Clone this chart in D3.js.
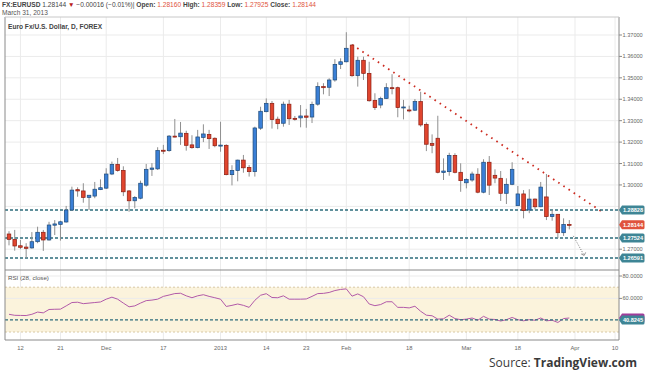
<!DOCTYPE html>
<html>
<head>
<meta charset="utf-8">
<script src="https://cdn.jsdelivr.net/npm/d3@7"></script>
<style>
  body { margin: 0; background: #fff; }
  svg { display: block; font-family: "Liberation Sans", Arial, sans-serif; }
</style>
</head>
<body>
<svg id="chart" width="645" height="376"></svg>
<script>
// daily bars, Nov 8 2012 .. Mar 28 2013: [open, high, low, close]
const candles = [
  [1.2771, 1.2784, 1.2718, 1.2746], [1.2746, 1.2790, 1.2693, 1.2715], [1.2716, 1.2743, 1.2700, 1.2709],
  [1.2710, 1.2728, 1.2659, 1.2704], [1.2706, 1.2780, 1.2702, 1.2735], [1.2735, 1.2805, 1.2728, 1.2779],
  [1.2779, 1.2790, 1.2692, 1.2743], [1.2743, 1.2828, 1.2740, 1.2813], [1.2812, 1.2836, 1.2766, 1.2818],
  [1.2816, 1.2833, 1.2740, 1.2828], [1.2827, 1.2902, 1.2824, 1.2883], [1.2883, 1.2992, 1.2880, 1.2976],
  [1.2978, 1.2989, 1.2945, 1.2972], [1.2972, 1.3008, 1.2917, 1.2942], [1.2942, 1.2953, 1.2883, 1.2952],
  [1.2948, 1.3014, 1.2938, 1.2980], [1.2978, 1.3026, 1.2976, 1.2987], [1.2985, 1.3078, 1.2981, 1.3051],
  [1.3051, 1.3109, 1.3046, 1.3096], [1.3096, 1.3126, 1.3062, 1.3067], [1.3068, 1.3087, 1.2948, 1.2968],
  [1.2972, 1.2976, 1.2875, 1.2926], [1.2926, 1.2948, 1.2891, 1.2942], [1.2938, 1.3020, 1.2933, 1.3008],
  [1.2999, 1.3098, 1.2992, 1.3073], [1.3073, 1.3102, 1.3042, 1.3079], [1.3075, 1.3176, 1.3070, 1.3161],
  [1.3162, 1.3187, 1.3144, 1.3160], [1.3160, 1.3233, 1.3155, 1.3228], [1.3228, 1.3308, 1.3222, 1.3224],
  [1.3225, 1.3294, 1.3187, 1.3242], [1.3241, 1.3253, 1.3160, 1.3185], [1.3187, 1.3232, 1.3169, 1.3174],
  [1.3174, 1.3257, 1.3171, 1.3224], [1.3222, 1.3283, 1.3200, 1.3238], [1.3236, 1.3257, 1.3168, 1.3216],
  [1.3218, 1.3222, 1.3176, 1.3183], [1.3183, 1.3295, 1.3155, 1.3186], [1.3185, 1.3190, 1.3045, 1.3048],
  [1.3048, 1.3092, 1.2998, 1.3068], [1.3067, 1.3118, 1.3017, 1.3116], [1.3116, 1.3140, 1.3057, 1.3080],
  [1.3082, 1.3093, 1.3039, 1.3062], [1.3062, 1.3272, 1.3039, 1.3266], [1.3265, 1.3365, 1.3257, 1.3344],
  [1.3342, 1.3404, 1.3339, 1.3381], [1.3381, 1.3392, 1.3263, 1.3305], [1.3307, 1.3319, 1.3260, 1.3286],
  [1.3288, 1.3389, 1.3272, 1.3377], [1.3377, 1.3397, 1.3280, 1.3309], [1.3311, 1.3322, 1.3300, 1.3310],
  [1.3313, 1.3373, 1.3269, 1.3322], [1.3322, 1.3355, 1.3267, 1.3316], [1.3317, 1.3389, 1.3289, 1.3376],
  [1.3377, 1.3479, 1.3370, 1.3459], [1.3459, 1.3475, 1.3423, 1.3454], [1.3456, 1.3498, 1.3415, 1.3490],
  [1.3490, 1.3587, 1.3482, 1.3563], [1.3563, 1.3591, 1.3541, 1.3575], [1.3575, 1.3713, 1.3572, 1.3638],
  [1.3653, 1.3657, 1.3505, 1.3510], [1.3510, 1.3599, 1.3459, 1.3582], [1.3582, 1.3599, 1.3490, 1.3521],
  [1.3521, 1.3575, 1.3389, 1.3393], [1.3395, 1.3428, 1.3350, 1.3361], [1.3373, 1.3412, 1.3358, 1.3404],
  [1.3404, 1.3475, 1.3401, 1.3454], [1.3454, 1.3517, 1.3423, 1.3452], [1.3454, 1.3459, 1.3316, 1.3361],
  [1.3361, 1.3397, 1.3306, 1.3364], [1.3350, 1.3370, 1.3339, 1.3348], [1.3349, 1.3401, 1.3345, 1.3389],
  [1.3389, 1.3435, 1.3272, 1.3280], [1.3283, 1.3292, 1.3158, 1.3190], [1.3193, 1.3236, 1.3148, 1.3185],
  [1.3218, 1.3323, 1.3054, 1.3059], [1.3058, 1.3124, 1.3023, 1.3065], [1.3062, 1.3150, 1.3043, 1.3138],
  [1.3138, 1.3148, 1.3054, 1.3059], [1.3059, 1.3101, 1.2968, 1.3020], [1.3010, 1.3031, 1.2984, 1.3026],
  [1.3023, 1.3062, 1.3015, 1.3051], [1.3050, 1.3078, 1.2961, 1.2966], [1.2966, 1.3120, 1.2961, 1.3106],
  [1.3106, 1.3135, 1.2953, 1.2999], [1.3045, 1.3073, 1.3008, 1.3032], [1.3031, 1.3065, 1.2925, 1.2961],
  [1.2961, 1.3031, 1.2911, 1.3003], [1.3003, 1.3106, 1.2999, 1.3073], [1.2903, 1.2995, 1.2902, 1.2958],
  [1.2958, 1.2976, 1.2844, 1.2880], [1.2883, 1.2980, 1.2868, 1.2934], [1.2934, 1.2937, 1.2886, 1.2898],
  [1.2898, 1.3014, 1.2896, 1.2990], [1.2944, 1.3051, 1.2836, 1.2852], [1.2852, 1.2883, 1.2833, 1.2863],
  [1.2863, 1.2864, 1.2752, 1.2777], [1.2777, 1.2844, 1.2762, 1.2816], [1.28160, 1.28359, 1.27925, 1.28144]
];

// RSI(28) per bar
const rsi = [
  45.8, 44.9, 44.8, 44.7, 45.8, 47.8, 47.1, 50.1, 50.3, 50.4,
  53.3, 56.3, 56.6, 55.3, 55.8, 56.3, 56.8, 59.3, 61.1, 59.3,
  55.8, 52.5, 53.3, 55.8, 58.0, 58.5, 59.3, 61.8, 63.0, 64.3,
  64.6, 62.3, 60.6, 62.3, 63.3, 61.8, 60.6, 59.3, 52.8, 53.8,
  55.0, 53.8, 52.0, 58.3, 62.8, 64.2, 60.8, 60.6, 62.3, 59.3,
  59.3, 59.3, 59.5, 61.8, 64.3, 64.5, 65.3, 67.0, 68.0, 68.5,
  62.0, 64.0, 61.5, 55.0, 53.5, 54.5, 57.0, 57.0, 52.0, 52.0,
  51.5, 53.0, 48.5, 45.0, 44.5, 41.5, 41.8, 45.0, 42.0, 41.0,
  41.5, 42.5, 40.5, 44.0, 41.5, 41.2, 39.8, 41.0, 43.0, 41.0,
  40.0, 41.0, 40.5, 42.5, 40.0, 40.5, 38.5, 42.0, 42.5
];

const xTickBars = [2, 9, 17, 27, 37, 45, 52, 59, 70, 80, 89, 99, 106];
const xTickLabels = ["12", "21", "Dec", "17", "2013", "14", "23", "Feb", "18", "Mar", "18", "Apr", "10"];
const priceTicks = [1.27, 1.28, 1.29, 1.30, 1.31, 1.32, 1.33, 1.34, 1.35, 1.36, 1.37];
const priceLevels = [1.28828, 1.27524, 1.26591];
const lastClose = 1.28144;
const rsiTicks = [80, 60];
const rsiBand = [30, 70];
const rsiLevel = 40.8245;
const trendLine = [[60, 1.3655], [104, 1.2870]];
const projection = [[98.7, 1.2762], [100.6, 1.2671]];

const svg = d3.select("#chart");
const left = 5, right = 619;
const priceTop = 17, priceBottom = 270, rsiBottom = 340;

const x = d3.scaleLinear().domain([0, candles.length - 1]).range([9, 569.3]);
const y = d3.scaleLinear().domain([1.27, 1.37]).range([249.2, 35]);
const yr = d3.scaleLinear().domain([30, 80]).range([332, 276]);

// header
const head = svg.append("text").attr("x", 2).attr("y", 7).attr("font-size", "6.6px").attr("fill", "#444");
head.append("tspan").attr("font-weight", "bold").text("FX:EURUSD ");
head.append("tspan").text("1.28144 ");
head.append("tspan").attr("fill", "#b8211b").text("\u25BC");
head.append("tspan").text(" \u22120.00016 (\u22120.01%)|  ");
[["Open:", "1.28160"], ["High:", "1.28359"], ["Low:", "1.27925"], ["Close:", "1.28144"]].forEach(([k, v]) => {
  head.append("tspan").attr("font-weight", "bold").text(k + " ");
  head.append("tspan").attr("fill", "#e0533d").text(v + " ");
});
svg.append("text").attr("x", 2).attr("y", 15).attr("font-size", "6.6px").attr("fill", "#555").text("March 31, 2013");

// grids
svg.append("g").selectAll("line").data(xTickBars).join("line")
  .attr("x1", d => x(d)).attr("x2", d => x(d))
  .attr("y1", priceTop).attr("y2", rsiBottom)
  .attr("stroke", "#ebebeb");
svg.append("g").selectAll("line").data(priceTicks).join("line")
  .attr("x1", left).attr("x2", right)
  .attr("y1", d => y(d)).attr("y2", d => y(d))
  .attr("stroke", "#ebebeb");

// rsi band
svg.append("rect")
  .attr("x", left).attr("width", right - left)
  .attr("y", yr(rsiBand[1])).attr("height", yr(rsiBand[0]) - yr(rsiBand[1]))
  .attr("fill", "#fbf3dc");
svg.append("g").selectAll("line").data(rsiBand).join("line")
  .attr("x1", left).attr("x2", right)
  .attr("y1", d => yr(d)).attr("y2", d => yr(d))
  .attr("stroke", "#d8c9a6").attr("stroke-dasharray", "2,2");
svg.append("g").selectAll("line").data(rsiTicks).join("line")
  .attr("x1", left).attr("x2", right)
  .attr("y1", d => yr(d)).attr("y2", d => yr(d))
  .attr("stroke", "#ebebeb");

svg.append("text").attr("x", 8).attr("y", 29).attr("font-size", "6.6px").attr("font-weight", "bold")
  .attr("fill", "#444").text("Euro Fx/U.S. Dollar, D, FOREX");
svg.append("text").attr("x", 8).attr("y", 280).attr("font-size", "6.2px")
  .attr("fill", "#555").text("RSI (28, close)");

// trend line
svg.append("line")
  .attr("x1", x(trendLine[0][0])).attr("y1", y(trendLine[0][1]))
  .attr("x2", x(trendLine[1][0])).attr("y2", y(trendLine[1][1]))
  .attr("stroke", "#cc2a1f").attr("stroke-width", 1.8).attr("stroke-dasharray", "1.6,4.6");

// horizontal levels
svg.append("g").selectAll("line").data(priceLevels).join("line")
  .attr("x1", left).attr("x2", right)
  .attr("y1", d => y(d)).attr("y2", d => y(d))
  .attr("stroke", "#2c6c7b").attr("stroke-width", 1.4).attr("stroke-dasharray", "3,2");

// projection
svg.append("line")
  .attr("x1", x(projection[0][0])).attr("y1", y(projection[0][1]))
  .attr("x2", x(projection[1][0])).attr("y2", y(projection[1][1]))
  .attr("stroke", "#777").attr("stroke-dasharray", "1,1.5");
{
  const px = x(projection[1][0]), py = y(projection[1][1]);
  svg.append("path").attr("d", `M${px - 3},${py - 1.5} L${px},${py} L${px + 1.5},${py - 3}`)
    .attr("fill", "none").attr("stroke", "#777").attr("stroke-width", 0.8);
}

// candles
const bw = 3.6;
const g = svg.append("g");
g.selectAll("line").data(candles).join("line")
  .attr("x1", (d, i) => x(i)).attr("x2", (d, i) => x(i))
  .attr("y1", d => y(d[1])).attr("y2", d => y(d[2]))
  .attr("stroke", "#8f8f8f").attr("stroke-width", 1);
g.selectAll("rect").data(candles).join("rect")
  .attr("x", (d, i) => x(i) - bw / 2).attr("width", bw)
  .attr("y", d => y(Math.max(d[0], d[3])))
  .attr("height", d => Math.max(1, Math.abs(y(d[0]) - y(d[3]))))
  .attr("fill", d => d[3] >= d[0] ? "#3a7fd6" : "#e0452e")
  .attr("stroke", d => d[3] >= d[0] ? "#1f4b78" : "#8c1c10")
  .attr("stroke-width", 0.7);

// rsi line
svg.append("path")
  .attr("d", d3.line().x((d, i) => x(i)).y(d => yr(d))(rsi))
  .attr("fill", "none").attr("stroke", "#b25aa8").attr("stroke-width", 1);
svg.append("line")
  .attr("x1", left).attr("x2", right)
  .attr("y1", yr(rsiLevel)).attr("y2", yr(rsiLevel))
  .attr("stroke", "#2c6c7b").attr("stroke-width", 1.4).attr("stroke-dasharray", "3,2");

// frame
svg.append("line").attr("x1", left).attr("x2", left).attr("y1", priceTop).attr("y2", rsiBottom).attr("stroke", "#8a8a8a");
svg.append("line").attr("x1", right).attr("x2", right).attr("y1", priceTop).attr("y2", rsiBottom).attr("stroke", "#8a8a8a");
svg.append("line").attr("x1", left).attr("x2", right).attr("y1", priceTop).attr("y2", priceTop).attr("stroke", "#c8c8c8");
svg.append("line").attr("x1", left).attr("x2", right).attr("y1", priceBottom).attr("y2", priceBottom).attr("stroke", "#8a8a8a");
svg.append("line").attr("x1", left).attr("x2", right).attr("y1", rsiBottom).attr("y2", rsiBottom).attr("stroke", "#8a8a8a");

// right axis labels (hidden where a price tag covers them)
const tagYs = priceLevels.map(y).concat([y(lastClose)]);
const axisText = (yy, t) => {
  svg.append("line").attr("x1", right).attr("x2", right + 3).attr("y1", yy).attr("y2", yy).attr("stroke", "#8a8a8a");
  svg.append("text").attr("x", right + 3.5).attr("y", yy + 2).attr("font-size", "5.6px").attr("fill", "#666").text(t);
};
priceTicks.filter(d => tagYs.every(t => Math.abs(t - y(d)) > 8)).forEach(d => axisText(y(d), d.toFixed(5)));
rsiTicks.forEach(d => axisText(yr(d), d.toFixed(4)));

const tagPath = (yy) => `M${right},${yy} L${right + 3},${yy - 4.5} L${right + 24},${yy - 4.5} Q${right + 25.5},${yy - 4.5} ${right + 25.5},${yy - 3} L${right + 25.5},${yy + 3} Q${right + 25.5},${yy + 4.5} ${right + 24},${yy + 4.5} L${right + 3},${yy + 4.5} Z`;
const tag = (yy, t, color) => {
  svg.append("path").attr("d", tagPath(yy)).attr("fill", color);
  svg.append("text").attr("x", right + 14).attr("y", yy + 2).attr("text-anchor", "middle")
    .attr("font-size", "5.6px").attr("font-weight", "bold").attr("fill", "#fff").text(t);
};
priceLevels.forEach(d => tag(y(d), d.toFixed(5), "#3e8595"));
tag(y(lastClose), lastClose.toFixed(5), "#e0533d");
// current RSI value tag sits behind the level tag, only its edge shows
svg.append("path").attr("d", tagPath(yr(rsi[rsi.length - 1]))).attr("fill", "#a03c9a");
tag(yr(rsiLevel), rsiLevel.toFixed(4), "#3e8595");

// x axis labels
svg.append("g").selectAll("text").data(xTickBars).join("text")
  .attr("x", d => x(d)).attr("y", 350)
  .attr("text-anchor", "middle").attr("font-size", "5.8px").attr("fill", "#666")
  .text((d, i) => xTickLabels[i]);

// source
const src = svg.append("text").attr("x", 637).attr("y", 367).attr("text-anchor", "end")
  .attr("font-family", "'Open Sans', sans-serif").attr("font-size", "12px").attr("fill", "#3a3a3a");
src.append("tspan").text("Source: ");
src.append("tspan").attr("font-weight", "bold").text("TradingView.com");
</script>
</body>
</html>
